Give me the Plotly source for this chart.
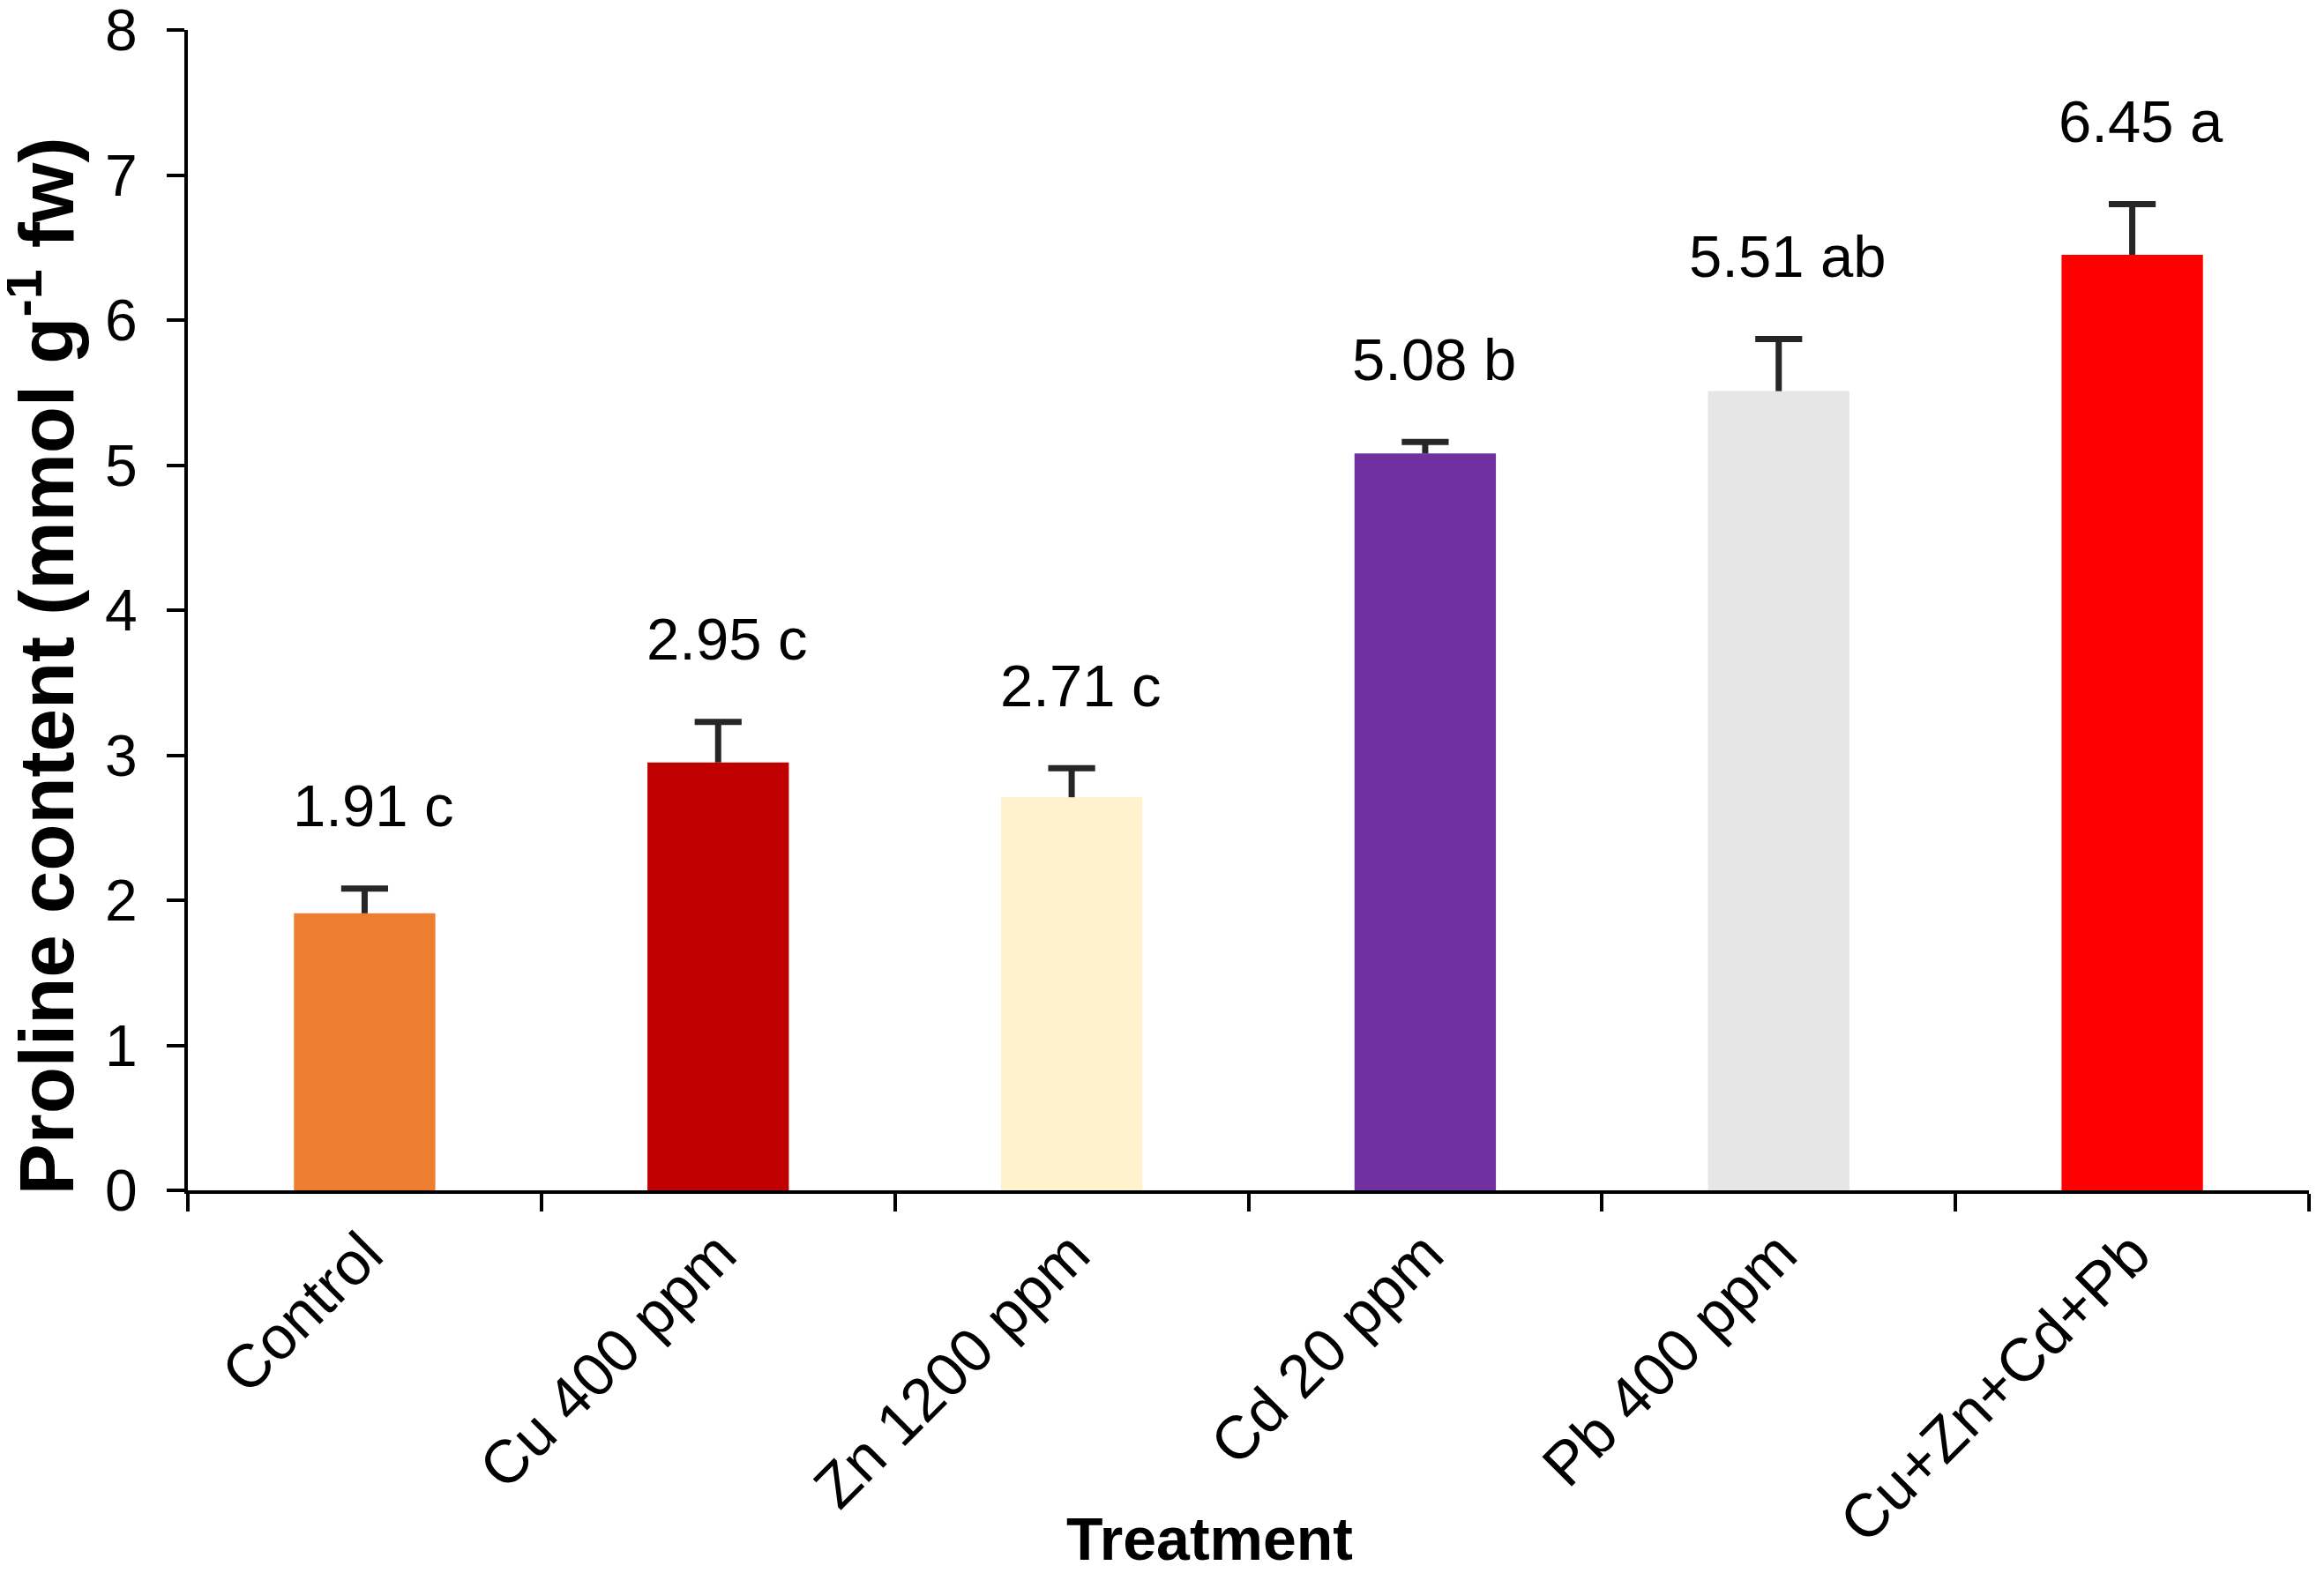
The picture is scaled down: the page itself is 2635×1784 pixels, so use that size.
import plotly.graph_objects as go

categories = ["Control", "Cu 400 ppm", "Zn 1200 ppm", "Cd 20 ppm", "Pb 400 ppm", "Cu+Zn+Cd+Pb"]
values = [1.91, 2.95, 2.71, 5.08, 5.51, 6.45]
errors = [0.17, 0.28, 0.20, 0.08, 0.36, 0.35]
letters = ["c", "c", "c", "b", "ab", "a"]
colors = ["#ED7D31", "#C00000", "#FFF2CC", "#7030A0", "#E6E6E6", "#FF0000"]
y_ticks = [0, 1, 2, 3, 4, 5, 6, 7, 8]

FONT = "Arial, Liberation Sans, sans-serif"
ERR_COLOR = "#262626"

fig = go.Figure()

fig.add_trace(go.Bar(
    x=categories,
    y=values,
    width=0.4,
    marker=dict(color=colors, line=dict(width=0)),
    error_y=dict(
        type="data",
        symmetric=False,
        array=errors,
        arrayminus=[0] * len(values),
        color=ERR_COLOR,
        thickness=7,
        width=0,
    ),
    showlegend=False,
))

# caps of error bars
fig.add_trace(go.Scatter(
    x=categories,
    y=[v + e for v, e in zip(values, errors)],
    mode="markers",
    marker=dict(symbol="line-ew", size=38, color=ERR_COLOR,
                line=dict(width=7, color=ERR_COLOR)),
    showlegend=False,
    hoverinfo="skip",
))

annotations = []
for c, v, e, l in zip(categories, values, errors, letters):
    annotations.append(dict(
        x=c, y=v + e, xref="x", yref="y",
        text=f"{v:.2f} {l}",
        showarrow=False,
        yanchor="middle",
        yshift=94,
        xshift=10,
        font=dict(family=FONT, size=67, color="black"),
    ))

annotations.append(dict(
    x=-0.069, y=0.452, xref="paper", yref="paper",
    text="<b>Proline content (mmol g<sup>-1</sup> fw)</b>",
    textangle=-90, showarrow=False,
    xanchor="center", yanchor="middle",
    font=dict(family=FONT, size=87, color="black"),
))
annotations.append(dict(
    x=0.4815, y=-0.300, xref="paper", yref="paper",
    text="<b>Treatment</b>",
    showarrow=False,
    xanchor="center", yanchor="middle",
    font=dict(family=FONT, size=68, color="black"),
))

fig.update_layout(
    width=2619,
    height=1768,
    margin=dict(l=205, r=9, t=26, b=426),
    paper_bgcolor="white",
    plot_bgcolor="white",
    font=dict(family=FONT, color="black"),
    annotations=annotations,
    bargap=0.6,
)

fig.update_xaxes(
    type="category",
    categoryorder="array",
    categoryarray=categories,
    automargin=False,
    showline=True, linecolor="black", linewidth=4,
    ticks="outside", tickson="boundaries", ticklen=20, tickwidth=4, tickcolor="black",
    tickangle=-45,
    tickfont=dict(family=FONT, size=69, color="black"),
    showgrid=False, zeroline=False,
)
fig.update_yaxes(
    range=[0, 8],
    tickvals=y_ticks,
    automargin=False,
    showline=True, linecolor="black", linewidth=4,
    ticks="outside", ticklen=20, tickwidth=4, tickcolor="black",
    tickfont=dict(family=FONT, size=66, color="black"),
    ticklabelstandoff=20,
    ticklabeloverflow="allow",
    showgrid=False, zeroline=False,
)

fig.write_html("out.html")
